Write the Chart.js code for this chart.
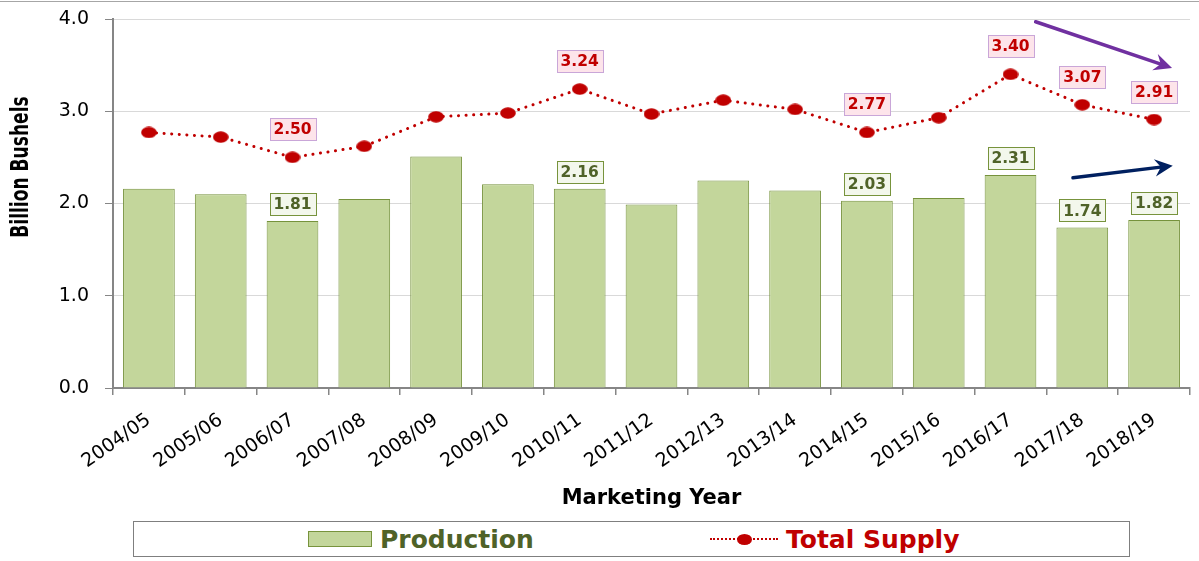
<!DOCTYPE html>
<html lang="en">
<head>
<meta charset="UTF-8">
<title>Production and Total Supply</title>
<script src="https://cdn.jsdelivr.net/npm/chart.js@4.4.1/dist/chart.umd.min.js"></script>
<style>
  body { margin: 0; background: #fff; }
  #wrap { position: relative; width: 1199px; height: 561px; overflow: hidden; }
  #topline { position: absolute; left: 0; top: 1px; width: 1199px; height: 1px; background: #a6a6a6; }
  #chartbox { position: absolute; left: 0; top: 0; width: 1199px; height: 515px; }
  #legend { position: absolute; left: 133px; top: 521px; width: 995px; height: 34px; border: 1px solid #7f7f7f;
            font-family: "DejaVu Sans", Verdana, sans-serif; font-weight: bold; font-size: 25px; }
  .item { position: absolute; top: 0; height: 34px; display: flex; align-items: center; }
  .bar { width: 62px; height: 14px; background: #c3d69b; border: 1px solid #77933c; margin-right: 8px; }
  .line { position: relative; width: 68px; height: 14px; margin-right: 8px; }
  .line .dash { position: absolute; left: 0; right: 0; top: 6px; border-top: 2px dotted #c00000; }
  .line .dot { position: absolute; left: 27px; top: 2px; width: 15px; height: 11px; border-radius: 50%; background: #c00000; }
</style>
</head>
<body>
<div id="wrap">
  <div id="topline"></div>
  <div id="chartbox"><canvas id="chart" width="1199" height="515"></canvas></div>
  <div id="legend">
    <div class="item" style="left:174px; color:#4f6228;"><span class="bar"></span>Production</div>
    <div class="item" style="left:576px; color:#c00000;"><span class="line"><span class="dash"></span><span class="dot"></span></span>Total Supply</div>
  </div>
</div>
<script>
const years = ['2004/05','2005/06','2006/07','2007/08','2008/09','2009/10','2010/11','2011/12',
               '2012/13','2013/14','2014/15','2015/16','2016/17','2017/18','2018/19'];
const production = [2.16, 2.10, 1.81, 2.05, 2.51, 2.21, 2.16, 1.99, 2.25, 2.14, 2.03, 2.06, 2.31, 1.74, 1.82];
const totalSupply = [2.77, 2.72, 2.50, 2.62, 2.94, 2.98, 3.24, 2.97, 3.12, 3.02, 2.77, 2.93, 3.40, 3.07, 2.91];
const labeled = [2, 6, 10, 12, 13, 14];
const yTicks = [0, 1, 2, 3, 4];

// trend arrows, in [category index, value] terms
const arrows = [
  { from: [12.35, 3.97], to: [14.25, 3.47], color: '#7030a0' },
  { from: [12.87, 2.28], to: [14.26, 2.41], color: '#002060' }
];

// slightly flattened marker like the original
const dot = document.createElement('canvas');
dot.width = 16; dot.height = 12;
(function () {
  const c = dot.getContext('2d');
  c.fillStyle = '#c00000';
  c.beginPath();
  c.ellipse(8, 6, 7.8, 5.8, 0, 0, Math.PI * 2);
  c.fill();
})();

function xAt(scale, v) {
  const i = Math.floor(v);
  const a = scale.getPixelForValue(i), b = scale.getPixelForValue(i + 1);
  return a + (b - a) * (v - i);
}

const labelPlugin = {
  id: 'boxLabels',
  afterDatasetsDraw(chart) {
    const ctx = chart.ctx;
    const xs = chart.scales.x, ys = chart.scales.y;
    ctx.save();
    ctx.font = 'bold 15.5px "DejaVu Sans", Verdana, sans-serif';
    ctx.textAlign = 'center';
    ctx.textBaseline = 'middle';
    labeled.forEach(i => {
      const x = xs.getPixelForValue(i);
      const drawBox = (txt, cy, fill, stroke, color) => {
        const w = Math.round(ctx.measureText(txt).width + 8), h = 22;
        const l = Math.round(x - w / 2), t = Math.round(cy - h / 2);
        ctx.fillStyle = fill;
        ctx.fillRect(l, t, w, h);
        ctx.strokeStyle = stroke;
        ctx.lineWidth = 1;
        ctx.strokeRect(l + 0.5, t + 0.5, w, h);
        ctx.fillStyle = color;
        ctx.fillText(txt, x, cy + 1);
      };
      drawBox(production[i].toFixed(2), ys.getPixelForValue(production[i]) - 17, '#f3f7ec', '#77933c', '#4f6228');
      drawBox(totalSupply[i].toFixed(2), ys.getPixelForValue(totalSupply[i]) - 28, '#fde4ea', '#c9a6d8', '#c00000');
    });

    arrows.forEach(a => {
      const x1 = xAt(xs, a.from[0]), y1 = ys.getPixelForValue(a.from[1]);
      const x2 = xAt(xs, a.to[0]), y2 = ys.getPixelForValue(a.to[1]);
      const ang = Math.atan2(y2 - y1, x2 - x1);
      ctx.strokeStyle = a.color;
      ctx.fillStyle = a.color;
      ctx.lineWidth = 3.5;
      ctx.lineCap = 'round';
      ctx.beginPath();
      ctx.moveTo(x1, y1);
      ctx.lineTo(x2 - 8 * Math.cos(ang), y2 - 8 * Math.sin(ang));
      ctx.stroke();
      ctx.beginPath();
      ctx.moveTo(x2, y2);
      ctx.lineTo(x2 - 20 * Math.cos(ang - 0.45), y2 - 20 * Math.sin(ang - 0.45));
      ctx.lineTo(x2 - 12 * Math.cos(ang), y2 - 12 * Math.sin(ang));
      ctx.lineTo(x2 - 20 * Math.cos(ang + 0.45), y2 - 20 * Math.sin(ang + 0.45));
      ctx.closePath();
      ctx.fill();
    });

    // y axis title, set a bit above the middle like the original
    ctx.translate(22, 167);
    ctx.scale(1.3, 1);
    ctx.rotate(-Math.PI / 2);
    ctx.font = 'bold 19px "Liberation Sans Narrow", "DejaVu Sans Condensed", sans-serif';
    ctx.fillStyle = '#000';
    ctx.fillText('Billion Bushels', 0, 0);
    ctx.restore();
  }
};

new Chart(document.getElementById('chart'), {
  type: 'bar',
  data: {
    labels: years,
    datasets: [
      {
        type: 'line',
        label: 'Total Supply',
        data: totalSupply,
        borderColor: '#c00000',
        backgroundColor: '#c00000',
        borderWidth: 3,
        borderDash: [0.1, 7.5],
        borderCapStyle: 'round',
        pointStyle: dot,
        pointRadius: 6,
        pointHoverRadius: 6,
        tension: 0,
        order: 0
      },
      {
        label: 'Production',
        data: production,
        backgroundColor: '#c3d69b',
        borderColor: '#76923c',
        borderWidth: 1,
        barPercentage: 0.72,
        categoryPercentage: 1,
        order: 1
      }
    ]
  },
  options: {
    responsive: false,
    animation: false,
    events: [],
    layout: { padding: { top: 19, right: 9, left: 0, bottom: 0 } },
    plugins: { legend: { display: false }, tooltip: { enabled: false } },
    scales: {
      x: {
        offset: true,
        grid: { offset: true, drawOnChartArea: false, tickLength: 7, color: '#868686', lineWidth: 1.5 },
        border: { color: '#868686', width: 2 },
        ticks: {
          color: '#000',
          minRotation: 35,
          maxRotation: 35,
          padding: 14,
          font: { family: '"DejaVu Sans", Verdana, sans-serif', size: 19 }
        },
        title: {
          display: true,
          text: 'Marketing Year',
          color: '#000',
          padding: { top: 0, bottom: 4 },
          font: { family: '"DejaVu Sans", Verdana, sans-serif', size: 21, weight: 'bold' }
        },
        afterFit(scale) { scale.height = 127; scale.paddingTop = 0; }
      },
      y: {
        min: 0,
        max: 4,
        afterBuildTicks(scale) { scale.ticks = yTicks.map(v => ({ value: v })); },
        grid: { color: '#d9d9d9', tickColor: '#868686', tickLength: 8, lineWidth: 1 },
        border: { color: '#868686', width: 2 },
        ticks: {
          color: '#000',
          padding: 16,
          callback: v => v.toFixed(1),
          font: { family: '"DejaVu Sans", Verdana, sans-serif', size: 19 }
        },
        afterFit(scale) { scale.width = 113; scale.paddingTop = 0; scale.paddingBottom = 0; }
      }
    }
  },
  plugins: [labelPlugin]
});
</script>
</body>
</html>
